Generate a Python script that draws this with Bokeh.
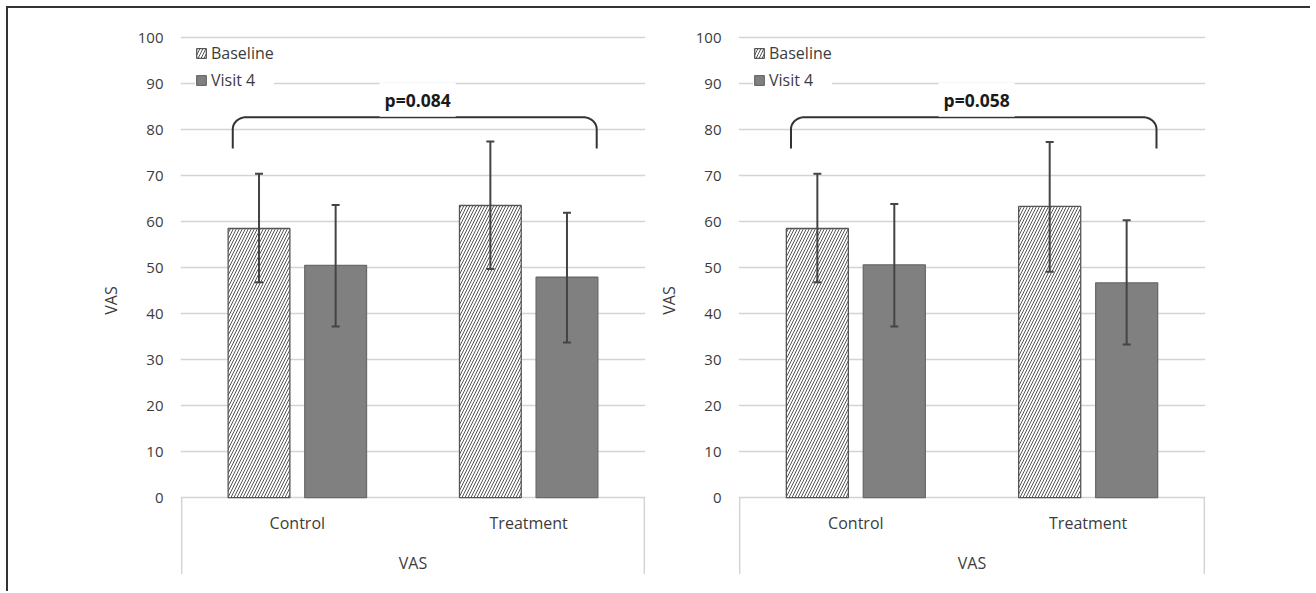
import numpy as np
from bokeh.plotting import figure
from bokeh.layouts import row
from bokeh.models import (ColumnDataSource, FixedTicker, Legend, LegendItem, Label,
                          Whisker, TeeHead, Range1d)
from bokeh.core.properties import value
from bokeh.embed import file_html
from bokeh.resources import INLINE

# ---------------- data ----------------
categories = ["Control", "Treatment"]
series = ["Baseline", "Visit 4"]
group_label = "VAS"
y_axis_label = "VAS"
y_ticks = [0, 10, 20, 30, 40, 50, 60, 70, 80, 90, 100]

left_baseline = [58.5, 63.5]
left_baseline_lo = [46.8, 49.7]
left_baseline_hi = [70.4, 77.4]
left_visit4 = [50.5, 47.9]
left_visit4_lo = [37.2, 33.7]
left_visit4_hi = [63.6, 61.9]
left_p = "p=0.084"

right_baseline = [58.5, 63.3]
right_baseline_lo = [46.8, 49.1]
right_baseline_hi = [70.4, 77.3]
right_visit4 = [50.6, 46.7]
right_visit4_lo = [37.2, 33.3]
right_visit4_hi = [63.8, 60.3]
right_p = "p=0.058"

# ---------------- style ----------------
FONT = "Open Sans"
TXT = "#3c3c3c"
GRID = "#d4d4d4"
BAR_W = 0.267
OFF = 0.1656


def make_panel(base, base_lo, base_hi, v4, v4_lo, v4_hi, ptext, width, mb_left, mb_right):
    p = figure(width=width, height=583, output_backend="svg", toolbar_location=None,
               x_axis_type=None, x_range=Range1d(0.495, 2.505), y_range=Range1d(-18.0, 103.7),
               min_border_left=mb_left, min_border_right=mb_right,
               min_border_top=12, min_border_bottom=11)
    p.outline_line_color = None
    p.background_fill_color = "white"
    p.border_fill_color = "white"

    yax = p.yaxis[0]
    yax.ticker = FixedTicker(ticks=y_ticks)
    yax.axis_line_color = None
    yax.major_tick_line_color = None
    yax.minor_tick_line_color = None
    yax.major_tick_out = 0
    yax.major_tick_in = 0
    yax.major_label_standoff = 17
    yax.major_label_text_font = FONT
    yax.major_label_text_font_size = "15px"
    yax.major_label_text_color = TXT
    yax.axis_label = y_axis_label
    yax.axis_label_text_font = FONT
    yax.axis_label_text_font_size = "16px"
    yax.axis_label_text_font_style = "normal"
    yax.axis_label_text_color = TXT
    yax.axis_label_standoff = 13

    p.ygrid.ticker = FixedTicker(ticks=y_ticks)
    p.ygrid.grid_line_color = GRID
    p.ygrid.grid_line_width = 1.5

    idx = np.arange(1, len(categories) + 1)
    src_b = ColumnDataSource(dict(x=idx - OFF, top=base, lo=base_lo, hi=base_hi))
    src_v = ColumnDataSource(dict(x=idx + OFF, top=v4, lo=v4_lo, hi=v4_hi))

    rb = p.vbar(x="x", top="top", bottom=0, width=BAR_W, source=src_b,
                fill_color="white", line_color="#555555", line_width=1.3,
                hatch_pattern="/", hatch_color="#555555", hatch_scale=6, hatch_weight=1)
    rv = p.vbar(x="x", top="top", bottom=0, width=BAR_W, source=src_v,
                fill_color="#808080", line_color="#6a6a6a", line_width=1.3)

    for src in (src_b, src_v):
        w = Whisker(source=src, base="x", upper="hi", lower="lo",
                    line_color="#444444", line_width=2, level="annotation",
                    upper_head=TeeHead(size=8, line_color="#444444", line_width=2),
                    lower_head=TeeHead(size=8, line_color="#444444", line_width=2))
        p.add_layout(w)

    # category box below the axis
    x0, x1 = 0.5, 2.5
    p.segment(x0=[x0, x1], x1=[x0, x1], y0=[0, 0], y1=[-16.6, -16.6],
              line_color=GRID, line_width=1.5)
    p.text(x=idx, y=[-5.6] * len(categories), text=categories,
           text_align="center", text_baseline="middle",
           text_font=value(FONT), text_font_size="16px", text_color=TXT)
    p.text(x=[1.5], y=[-14.1], text=[group_label],
           text_align="center", text_baseline="middle",
           text_font=value(FONT), text_font_size="16px", text_color=TXT)

    # significance bracket
    xl = (idx[0] - OFF) - BAR_W / 2 + 0.02
    xr = (idx[-1] + OFF) + BAR_W / 2 - 0.005
    yb, yt = 75.9, 82.7
    rx, ry = 0.06, 2.6
    t1 = np.linspace(np.pi, np.pi / 2, 12)
    t2 = np.linspace(np.pi / 2, 0, 12)
    bx = np.concatenate([[xl], xl + rx + rx * np.cos(t1), xr - rx + rx * np.cos(t2), [xr]])
    by = np.concatenate([[yb], yt - ry + ry * np.sin(t1), yt - ry + ry * np.sin(t2), [yb]])
    p.line(bx, by, line_color="#333333", line_width=2)

    lab = Label(x=1.52, y=86.5, text=ptext, text_align="center", text_baseline="middle",
                text_font=FONT, text_font_size="17.5px", text_font_style="bold",
                text_color="#1a1a1a", background_fill_color="white", padding=5)
    p.add_layout(lab)

    leg = Legend(items=[LegendItem(label=series[0], renderers=[rb]),
                        LegendItem(label=series[1], renderers=[rv])],
                 location=(15, 489))
    leg.background_fill_color = "white"
    leg.background_fill_alpha = 1.0
    leg.border_line_color = None
    leg.padding = 2
    leg.spacing = 5
    leg.margin = 0
    leg.glyph_width = 12
    leg.glyph_height = 12
    leg.label_height = 22
    leg.label_standoff = 4
    leg.label_text_font = FONT
    leg.label_text_font_size = "16px"
    leg.label_text_color = TXT
    p.add_layout(leg, "center")
    return p


p1 = make_panel(left_baseline, left_baseline_lo, left_baseline_hi,
                left_visit4, left_visit4_lo, left_visit4_hi, left_p,
                width=642, mb_left=172, mb_right=5)
p2 = make_panel(right_baseline, right_baseline_lo, right_baseline_hi,
                right_visit4, right_visit4_lo, right_visit4_hi, right_p,
                width=660, mb_left=88, mb_right=105)

layout = row(p1, p2, styles={"border-top": "2px solid #333333",
                             "border-left": "2px solid #333333",
                             "margin-left": "6px", "margin-top": "6px"})

open("out.html", "w").write(file_html(layout, INLINE))
